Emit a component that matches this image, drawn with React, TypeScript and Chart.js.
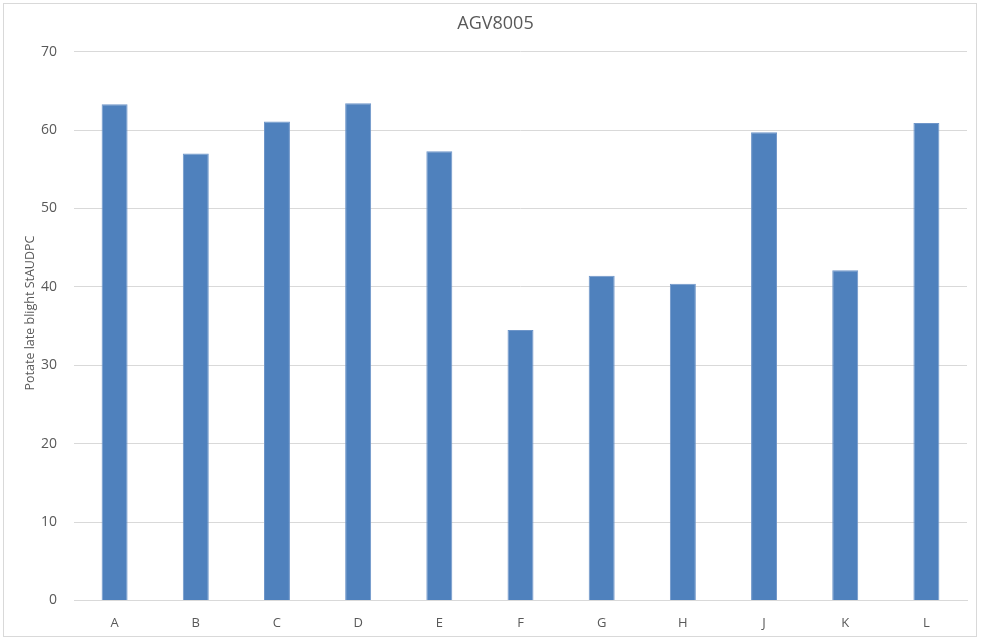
import React, { useEffect, useRef } from "react";
import { Chart, registerables } from "chart.js";

Chart.register(...registerables);

const categories = ["A", "B", "C", "D", "E", "F", "G", "H", "J", "K", "L"];
const values = [63.3, 57.0, 61.1, 63.4, 57.3, 34.5, 41.4, 40.4, 59.7, 42.1, 60.9];
const chartTitle = "AGV8005";
const yAxisTitle = "Potate late blight StAUDPC";
const yMin = 0;
const yMax = 70;
const yStep = 10;

const font = "'Open Sans', 'DejaVu Sans', sans-serif";

const yTitlePlugin = {
  id: "yTitlePlugin",
  afterDraw(chart: any) {
    const { ctx, chartArea } = chart;
    ctx.save();
    ctx.translate(30, (chartArea.top + chartArea.bottom) / 2 - 13);
    ctx.rotate(-Math.PI / 2);
    ctx.font = `12.5px ${font}`;
    ctx.fillStyle = "#595959";
    ctx.textAlign = "center";
    ctx.textBaseline = "middle";
    ctx.fillText(yAxisTitle, 0, 0);
    ctx.restore();
  },
};

export default function App() {
  const ref = useRef<HTMLCanvasElement | null>(null);

  useEffect(() => {
    if (!ref.current) return;
    const chart = new Chart(ref.current, {
      type: "bar",
      data: {
        labels: categories,
        datasets: [
          {
            label: chartTitle,
            data: values,
            backgroundColor: "#4f81bd",
            borderColor: "#6f96c9",
            borderWidth: 1,
            categoryPercentage: 1,
            barPercentage: 0.32,
          },
        ],
      },
      options: {
        animation: false,
        responsive: false,
        maintainAspectRatio: false,
        layout: { padding: { left: 24, right: 14, top: 0, bottom: 3 } },
        plugins: {
          legend: { display: false },
          tooltip: { enabled: false },
          title: {
            display: true,
            text: chartTitle,
            color: "#595959",
            font: { family: font, size: 18, weight: "normal" },
            padding: { top: 13, bottom: 17 },
          },
        },
        scales: {
          x: {
            grid: { display: false },
            border: { display: true, color: "#d9d9d9" },
            ticks: {
              color: "#595959",
              font: { family: font, size: 13 },
              padding: 7,
            },
          },
          y: {
            min: yMin,
            max: yMax,
            ticks: {
              stepSize: yStep,
              color: "#595959",
              font: { family: font, size: 14 },
              padding: 17,
            },
            grid: { color: "#d9d9d9", drawTicks: false },
            border: { display: false },
          },
        },
      },
      plugins: [yTitlePlugin],
    });
    return () => chart.destroy();
  }, []);

  return (
    <div style={{ position: "absolute", left: 0, top: 0, width: 981, height: 641, background: "#fff" }}>
      <div
        style={{
          position: "absolute",
          left: 3,
          top: 3,
          width: 974,
          height: 634,
          border: "1px solid #d9d9d9",
          boxSizing: "border-box",
        }}
      />
      <canvas ref={ref} width={981} height={641} style={{ position: "absolute", left: 0, top: 0 }} />
    </div>
  );
}
